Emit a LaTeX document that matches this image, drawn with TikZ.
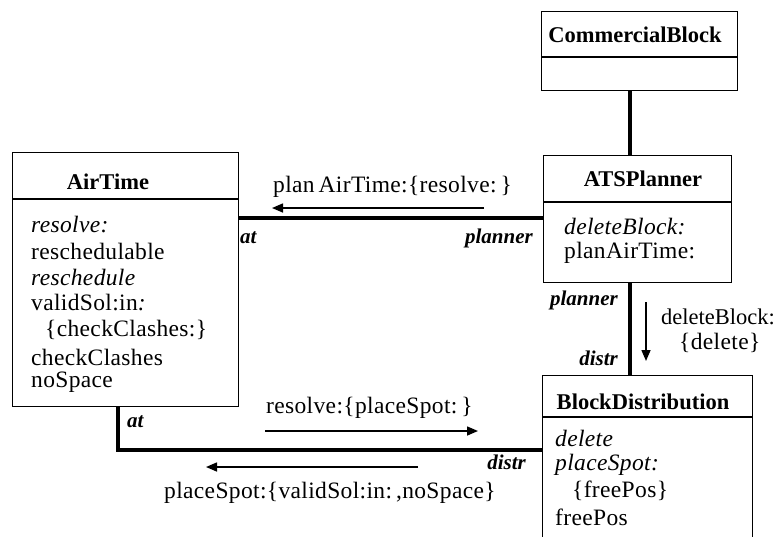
\documentclass[tikz,border=0pt]{standalone}
\usepackage{fontspec}
\setmainfont{Liberation Serif}
\newfontfamily\bodyfont[LetterSpace=1.5]{Liberation Serif}
\usetikzlibrary{arrows.meta}

\tikzset{
  classbox/.style={draw, line width=1.4pt, inner sep=0pt, anchor=north west},
  divider/.style={line width=1.4pt},
  classname/.style={font=\fontsize{22.5}{24}\selectfont\bfseries, inner sep=0pt},
  member/.style={font=\bodyfont\fontsize{23.5}{26}\selectfont, inner sep=0pt, anchor=west},
  rolename/.style={font=\fontsize{21}{24}\selectfont\bfseries\itshape, inner sep=0pt},
  assoc/.style={line width=3.2pt},
  msgarrow/.style={line width=1.5pt, -{Triangle[length=11pt,width=9pt]}},
  msglabel/.style={font=\bodyfont\fontsize{23.5}{26}\selectfont, inner sep=0pt},
}

\begin{document}
\begin{tikzpicture}[x=1pt,y=-1pt]
\useasboundingbox (0,0) rectangle (778,536);

% ---- classes ----
\node[classbox, minimum width=196pt, minimum height=79pt] (cb) at (541,11) {};
\draw[divider] (541,57) -- (737,57);
\node[classname] (cbname) at (635,35) {CommercialBlock};

\node[classbox, minimum width=188pt, minimum height=127pt] (atsp) at (543,155) {};
\draw[divider] (543,202) -- (731,202);
\node[classname] (atspname) at (643,179) {ATSPlanner};
\node[member] (atsp1) at (564,227) {\itshape deleteBlock:};
\node[member] (atsp2) at (564,253) {planAirTime:};

\node[classbox, minimum width=226pt, minimum height=254pt] (air) at (12,152) {};
\draw[divider] (12,199) -- (238,199);
\node[classname] (airname) at (108,182) {AirTime};
\node[member] (air1) at (31,225) {\itshape resolve:};
\node[member] (air2) at (31,251) {reschedulable};
\node[member] (air3) at (31,277) {\itshape reschedule};
\node[member] (air4) at (31,303) {validSol:in\textit{:}};
\node[member] (air5) at (45,330) {\{checkClashes:\}};
\node[member] (air6) at (31,357) {checkClashes};
\node[member] (air7) at (31,382) {noSpace};

\node[classbox, minimum width=210pt, minimum height=175pt] (bd) at (542,375) {};
\draw[divider] (542,417) -- (752,417);
\node[classname] (bdname) at (643,402) {BlockDistribution};
\node[member] (bd1) at (555,438) {\itshape delete};
\node[member] (bd2) at (555,465) {\itshape placeSpot:};
\node[member] (bd3) at (572,491) {\{freePos\}};
\node[member] (bd4) at (555,517) {freePos};

% ---- associations ----
\coordinate (axis) at (630,0);
\coordinate (toprow) at (0,218);
\coordinate (botrow) at (0,450);
\coordinate (leftcol) at (118,0);
\coordinate (bend) at (118,450);

\draw[assoc] (cb.south -| axis) -- (atsp.north -| axis);
\draw[assoc] (atsp.south -| axis) -- (bd.north -| axis);
\draw[assoc] (air.east |- toprow) -- (atsp.west |- toprow);
\draw[assoc] (air.south -| leftcol) -- (bend) -- (bd.west |- botrow);

% ---- role names ----
\node[rolename, anchor=west] (r1) at (240,238) {at};
\node[rolename, anchor=east] (r2) at (533,238) {planner};
\node[rolename, anchor=east] (r3) at (618,300) {planner};
\node[rolename, anchor=east] (r4) at (618,358) {distr};
\node[rolename, anchor=west] (r5) at (127,422) {at};
\node[rolename, anchor=east] (r6) at (526,462) {distr};

% ---- messages ----
\coordinate (m1s) at (484,208);
\coordinate (m1e) at (272,208);
\draw[msgarrow] (m1s) -- (m1e);
\node[msglabel, anchor=west] (m1) at (273,187) {plan\,AirTime:\{resolve:\,\}};

\coordinate (m2s) at (265,431);
\coordinate (m2e) at (478,431);
\draw[msgarrow] (m2s) -- (m2e);
\node[msglabel, anchor=west] (m2) at (266,408) {resolve:\{placeSpot:\,\}};

\coordinate (m3s) at (418,467);
\coordinate (m3e) at (206,467);
\draw[msgarrow] (m3s) -- (m3e);
\node[msglabel, anchor=west] (m3) at (164,493) {placeSpot:\{validSol:in:\,,noSpace\}};

\coordinate (m4s) at (646,302);
\coordinate (m4e) at (646,361);
\draw[msgarrow] (m4s) -- (m4e);
\node[msglabel, font=\rmfamily\fontsize{22.5}{26}\selectfont, anchor=west] (m4a) at (661,317) {deleteBlock:};
\node[msglabel, anchor=west] (m4b) at (679,343) {\{delete\}};
\end{tikzpicture}
\end{document}
